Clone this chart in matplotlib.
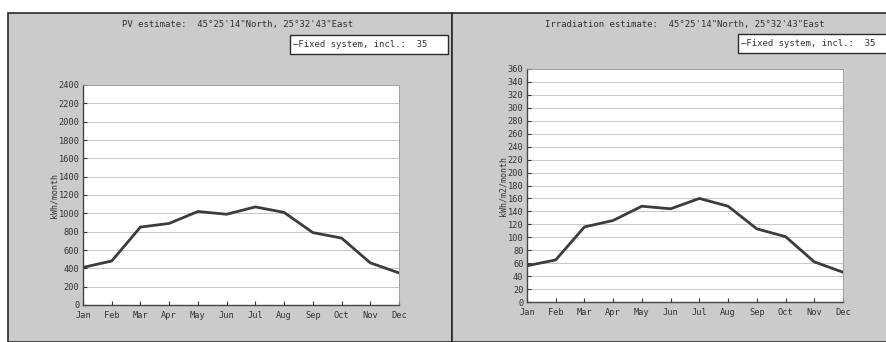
import matplotlib
matplotlib.use("Agg")
import matplotlib.pyplot as plt
from matplotlib.patches import Rectangle

months = ["Jan", "Feb", "Mar", "Apr", "May", "Jun", "Jul", "Aug", "Sep", "Oct", "Nov", "Dec"]
pv_kwh = [410, 480, 850, 890, 1020, 990, 1070, 1010, 790, 730, 460, 350]
irr_kwh_m2 = [56, 65, 116, 126, 148, 144, 160, 148, 113, 101, 62, 46]

pv_ticks = list(range(0, 2401, 200))
irr_ticks = list(range(0, 361, 20))

FONT = "DejaVu Sans Mono"
BG = "#cbcbcb"
TXT = "#333333"
LINE = "#3c3c3c"

W, H = 887, 342
fig = plt.figure(figsize=(W / 100, H / 100), dpi=100, facecolor="white")


def px(x0, y0, w, h):
    # pixel box (top-left origin) -> figure fractions
    return [x0 / W, 1 - (y0 + h) / H, w / W, h / H]


# panel backgrounds and frames (behind the axes)
for x0, x1 in [(8, 452), (452, 887)]:
    fig.patches.append(Rectangle((x0 / W, 0), (x1 - x0) / W, 1 - 13 / H,
                                 transform=fig.transFigure, facecolor=BG,
                                 edgecolor="#2a2a2a", linewidth=1.2, zorder=-5))


def panel(rect, values, ticks, ylabel, title, title_x, legend_box):
    ax = fig.add_axes(rect)
    ax.set_facecolor("white")
    x = list(range(len(values)))
    ax.plot(x, values, color=LINE, linewidth=2, zorder=3)
    ax.set_xlim(0, len(values) - 1)
    ax.set_ylim(ticks[0], ticks[-1])
    ax.set_xticks(x)
    ax.set_xticklabels(months)
    ax.set_yticks(ticks)
    ax.grid(axis="y", color="#bdbdbd", linewidth=0.6)
    ax.tick_params(direction="in", length=3, width=0.8, colors=TXT)
    ax.tick_params(axis="x", labelsize=6.2, pad=4)
    ax.tick_params(axis="y", labelsize=6.2, pad=2.5)
    for lbl in ax.get_xticklabels() + ax.get_yticklabels():
        lbl.set_family(FONT)
    for side in ["top", "right"]:
        ax.spines[side].set_color("#9a9a9a")
        ax.spines[side].set_linewidth(0.6)
    for side in ["left", "bottom"]:
        ax.spines[side].set_color("#444444")
        ax.spines[side].set_linewidth(1.0)
    ax.set_ylabel(ylabel, family=FONT, fontsize=6, color=TXT, labelpad=0)

    fig.text(title_x / W, 1 - 25 / H, title, family=FONT, fontsize=6.5,
             color=TXT, ha="center", va="center")
    lx, ly, lw, lh = legend_box
    fig.patches.append(Rectangle((lx / W, 1 - (ly + lh) / H), lw / W, lh / H,
                                 transform=fig.transFigure, facecolor="white",
                                 edgecolor="#2a2a2a", linewidth=1.0, zorder=2))
    fig.text((lx + 3) / W, 1 - (ly + lh / 2) / H, "\u2014Fixed system, incl.:  35",
             family=FONT, fontsize=6.5, color=TXT, ha="left", va="center", zorder=3)
    return ax


panel(px(83, 85, 316, 220), pv_kwh, pv_ticks, "kWh/month",
      "PV estimate:  45\u00b025'14\"North, 25\u00b032'43\"East", 238,
      (290, 35, 158, 19))
panel(px(527, 69, 316, 233), irr_kwh_m2, irr_ticks, "kWh/m2/month",
      "Irradiation estimate:  45\u00b025'14\"North, 25\u00b032'43\"East", 685,
      (738, 34, 152, 19))

fig.savefig("out.png", dpi=100, facecolor="white")
